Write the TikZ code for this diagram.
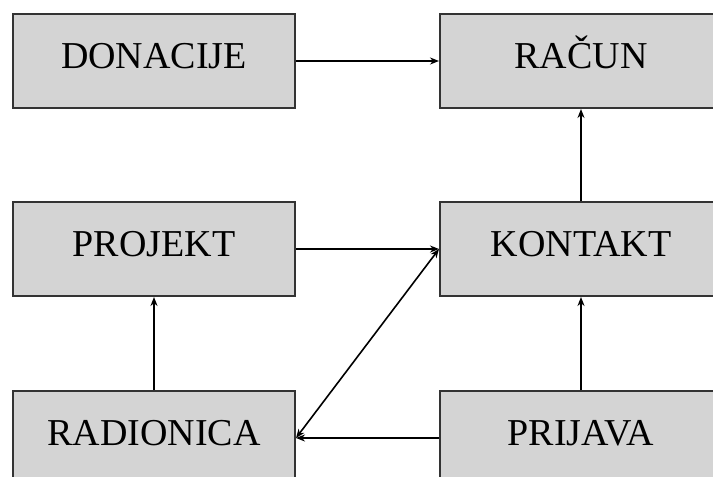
\documentclass[tikz,border=0pt]{standalone}
\usepackage{fontspec}
\setmainfont{Liberation Serif}
\usetikzlibrary{arrows.meta,positioning}
\definecolor{boxfill}{HTML}{D4D4D4}
\definecolor{boxline}{HTML}{333333}

\begin{document}
\begin{tikzpicture}[x=1pt,y=1pt,box/.style={draw=boxline,line width=2pt,fill=boxfill,minimum width=282pt,minimum height=94pt,text height=25pt,text depth=11pt,font=\fontsize{38}{40}\selectfont},arr/.style={-{Stealth[length=9pt,width=7pt]},line width=1.6pt},node distance=92pt and 143pt]
\useasboundingbox (0,0) rectangle (713,-477);
\node[box] (donacije) at (154,-61) {DONACIJE};
\node[box,right=of donacije] (racun) {RAČUN};
\node[box,below=of donacije] (projekt) {PROJEKT};
\node[box,below=of racun] (kontakt) {KONTAKT};
\node[box,below=93pt of projekt] (radionica) {RADIONICA};
\node[box,below=93pt of kontakt] (prijava) {PRIJAVA};
\draw[arr] (donacije)--(racun);
\draw[arr] (kontakt)--(racun);
\draw[arr] (projekt)--(kontakt);
\draw[arr,{Stealth[length=9pt,width=7pt]}-{Stealth[length=9pt,width=7pt]}] (radionica.east)--(kontakt.west);
\draw[arr] (prijava)--(radionica);
\draw[arr] (prijava)--(kontakt);
\draw[arr] (radionica)--(projekt);
\end{tikzpicture}
\end{document}
